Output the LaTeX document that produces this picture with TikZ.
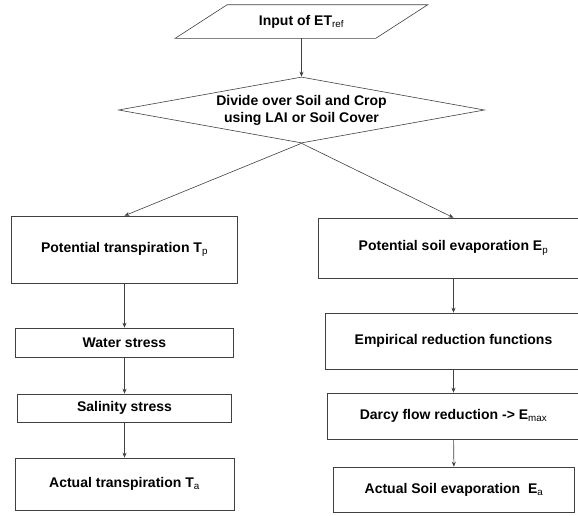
\documentclass[tikz,border=0pt]{standalone}
\usepackage{fontspec}
\setmainfont{Liberation Sans}
\usetikzlibrary{positioning,shapes.geometric,arrows.meta}
\newcommand{\lowidx}[1]{\textsubscript{\mdseries #1}}

\begin{document}
\begin{tikzpicture}[
    x=1pt, y=-1pt,
    box/.style={%
      draw=black!75,
      rectangle,
      line width=0.6pt,
      font=\fontsize{14}{17}\selectfont\bfseries,
      inner sep=0pt,
    },
    flow/.style={%
      draw=black!75,
      line width=0.6pt,
      -{Stealth[length=5pt,width=4pt]},
    },
  ]
    \clip (0,0) rectangle (578,515);

    \node [box, draw=none, minimum width=200pt, minimum height=33pt] (input) at (301.5,21.5) {Input of ET\lowidx{ref}};
    \draw [black!75, line width=0.6pt] ([xshift=26pt]input.north west) -- ([xshift=26pt]input.north east)
      -- ([xshift=-26pt]input.south east) -- ([xshift=-26pt]input.south west) -- cycle;
    \path (input) ++(0,88.5) node [box, diamond, aspect=5.5, minimum width=366pt, minimum height=66pt, align=center] (divide) {Divide over Soil and Crop\\using LAI or Soil Cover};

    % crop side
    \path (divide) ++(-177,139.5) node [box, minimum width=226pt, minimum height=67pt] (potT) {Potential transpiration T\lowidx{p}};
    \path (potT) ++(0,93) node [box, minimum width=218pt, minimum height=29pt] (water) {Water stress};
    \path (water) ++(0,65.5) node [box, minimum width=214pt, minimum height=28pt] (salin) {Salinity stress};
    \path (salin) ++(0,76) node [box, minimum width=219pt, minimum height=52pt] (actT) {Actual transpiration T\lowidx{a}};

    % soil side
    \path (divide) ++(152,138) node [box, minimum width=270pt, minimum height=60pt] (potE) {Potential soil evaporation E\lowidx{p}};
    \path (potE) ++(0,93) node [box, minimum width=256pt, minimum height=56pt] (emp) {Empirical reduction functions};
    \path (emp) ++(0,75) node [box, minimum width=252pt, minimum height=46pt] (darcy) {Darcy flow reduction -> E\lowidx{max}};
    \path (darcy) ++(0.5,73.5) node [box, minimum width=241pt, minimum height=45pt] (actE) {Actual Soil evaporation~ E\lowidx{a}};

    \draw [flow] (input) -- (divide);
    \draw [flow] (divide.south) -- (potT.north);
    \draw [flow] (divide.south) -- (potE.north);
    \draw [flow] (potT) -- (water);
    \draw [flow] (water) -- (salin);
    \draw [flow] (salin) -- (actT);
    \draw [flow] (potE) -- (emp);
    \draw [flow] (emp) -- (darcy);
    \draw [flow] (darcy) -- (actE);
\end{tikzpicture}
\end{document}
